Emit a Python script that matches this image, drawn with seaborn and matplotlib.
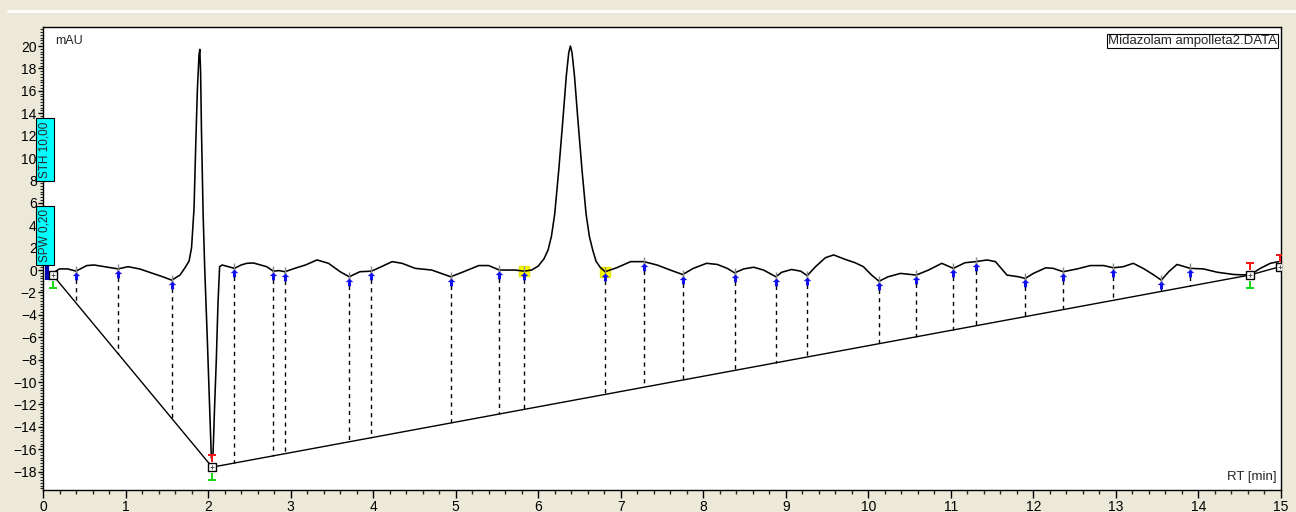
import numpy as np
import pandas as pd
import matplotlib
matplotlib.use("Agg")
import matplotlib.pyplot as plt
import seaborn as sns
from matplotlib.path import Path
from matplotlib.lines import Line2D
from matplotlib.ticker import MultipleLocator
from matplotlib.transforms import ScaledTranslation

# ---- chromatogram signal (RT in min, signal in mAU) ----
rt = [0.10, 0.20, 0.30, 0.40, 0.53, 0.62, 0.77, 0.91, 1.03, 1.17, 1.33, 1.45,
      1.56, 1.66, 1.72, 1.77, 1.80, 1.83, 1.85, 1.87, 1.89, 1.90, 1.91, 1.92,
      1.94, 1.96, 1.99, 2.02, 2.04, 2.06, 2.08, 2.10, 2.12, 2.14, 2.17, 2.32,
      2.40, 2.47, 2.55, 2.71, 2.79, 2.86, 2.93, 3.05, 3.18, 3.32, 3.46, 3.60,
      3.71, 3.84, 3.98, 4.10, 4.23, 4.35, 4.51, 4.71, 4.94, 5.08, 5.28, 5.40,
      5.53, 5.72, 5.83, 5.92, 6.00, 6.07, 6.12, 6.16, 6.20, 6.25, 6.30, 6.34,
      6.37, 6.39, 6.41, 6.44, 6.48, 6.53, 6.58, 6.62, 6.66, 6.70, 6.75, 6.81,
      6.95, 7.12, 7.28, 7.44, 7.60, 7.75, 7.88, 8.04, 8.17, 8.29, 8.38, 8.49,
      8.61, 8.73, 8.88, 8.95, 9.07, 9.18, 9.26, 9.36, 9.48, 9.58, 9.72, 9.84,
      9.94, 10.04, 10.13, 10.24, 10.39, 10.58, 10.73, 10.89, 11.03, 11.17,
      11.30, 11.44, 11.54, 11.68, 11.82, 11.90, 12.00, 12.15, 12.24, 12.36,
      12.53, 12.69, 12.85, 12.97, 13.09, 13.21, 13.33, 13.45, 13.55, 13.64,
      13.74, 13.90, 14.06, 14.23, 14.43, 14.62, 14.75, 14.87, 14.97]
mau = [-0.35, 0.10, 0.10, -0.10, 0.40, 0.45, 0.27, 0.10, 0.30, 0.10, -0.30, -0.60,
       -0.90, -0.45, 0.20, 0.80, 2.00, 5.50, 11.00, 16.00, 19.20, 19.70, 17.50, 12.50,
       5.00, 0.00, -6.00, -12.50, -16.80, -16.50, -12.00, -8.00, -3.00, 0.30, 0.45, 0.15,
       0.45, 0.60, 0.63, 0.30, -0.10, -0.05, -0.15, 0.15, 0.45, 0.90, 0.60, -0.15,
       -0.60, -0.15, -0.10, 0.30, 0.75, 0.60, 0.15, 0.00, -0.60, -0.20, 0.40, 0.40,
       0.00, 0.00, -0.10, 0.00, 0.35, 1.00, 1.80, 3.00, 5.00, 9.00, 13.50, 17.30,
       19.40, 20.00, 19.40, 17.30, 13.50, 9.00, 5.00, 3.00, 1.80, 0.80, 0.25, -0.15,
       0.20, 0.75, 0.75, 0.45, 0.00, -0.40, 0.15, 0.60, 0.50, 0.15, -0.25, 0.10,
       0.25, 0.00, -0.60, -0.20, 0.05, -0.10, -0.50, 0.30, 1.10, 1.35, 0.95, 0.65,
       0.30, -0.45, -1.00, -0.60, -0.30, -0.45, 0.00, 0.60, 0.15, 0.65,
       0.75, 0.90, 0.75, -0.45, -0.60, -0.75, -0.30, 0.20, 0.15, -0.15,
       0.10, 0.40, 0.40, 0.20, 0.30, 0.60, 0.15, -0.40, -0.90, -0.15,
       0.50, 0.15, 0.10, -0.20, -0.40, -0.45, 0.15, 0.60, 0.75]

# ---- integration baseline (peak start / end anchors) ----
base_rt = [0.12, 2.05, 14.62, 14.99]
base_mau = [-0.45, -17.60, -0.45, 0.30]

# ---- detected valley marks ----
valley_rt = [0.40, 0.91, 1.56, 2.32, 2.79, 2.93, 3.71, 3.98, 4.94, 5.53, 5.83,
             6.81, 7.28, 7.75, 8.38, 8.88, 9.26, 10.13, 10.58, 11.03, 11.30,
             11.90, 12.36, 12.97, 13.55, 13.90]
valley_mau = [-0.10, 0.10, -0.90, 0.15, -0.10, -0.15, -0.60, -0.10, -0.60, 0.00,
              -0.10, -0.15, 0.75, -0.40, -0.25, -0.60, -0.50, -1.00, -0.45, 0.15,
              0.75, -0.75, -0.15, 0.20, -0.90, 0.15]

# highlighted peak limits of the main peak
limit_rt = [5.83, 6.81]
limit_mau = [-0.10, -0.15]

# peak start / end boxes and their flags
box_rt = [0.12, 2.05, 14.62, 14.99]
box_mau = [-0.45, -17.60, -0.45, 0.30]
start_flag = [True, True, True, False]   # green flag below
end_flag = [False, True, True, True]     # red flag above

# event bar at the beginning of the run
event_rt = [0.05, 0.05]
event_mau = [0.40, -0.90]

x_ticks = list(range(0, 16))
y_ticks = list(range(-18, 21, 2))

sns.set_style("ticks")
plt.rcParams['font.family'] = ['Liberation Sans', 'DejaVu Sans']

W, H = 1296, 512
fig = plt.figure(figsize=(W / 100, H / 100), dpi=100, facecolor='#ECE9D8')
ax = fig.add_axes([43 / W, 1 - 490 / H, (1281 - 43) / W, (490 - 27) / H])
ax.set_facecolor('white')

fig.add_artist(Line2D([8 / W, 1], [1 - 11 / H, 1 - 11 / H], color='white', lw=2))


def shifted(dy_px):
    return ax.transData + ScaledTranslation(0, dy_px / 100, fig.dpi_scale_trans)


# signal trace
trace = pd.DataFrame({'rt': rt, 'mau': mau})
sns.lineplot(data=trace, x='rt', y='mau', color='black', lw=1.15, sort=False,
             estimator=None, ax=ax, zorder=3)

# integration baseline
base = pd.DataFrame({'rt': base_rt, 'mau': base_mau})
sns.lineplot(data=base, x='rt', y='mau', color='black', lw=1.0, sort=False,
             estimator=None, ax=ax, zorder=3)

# drop lines from each valley to the baseline
for t, v in zip(valley_rt, valley_mau):
    b = np.interp(t, base_rt, base_mau)
    ax.plot([t, t], [v, b], color='black', lw=1.0, ls=(0, (3, 3)), zorder=2)

# yellow peak limit highlights
ax.plot(limit_rt, limit_mau, ls='none', marker='s', ms=7.5, color='#FFFF00',
        mec='#E8E800', zorder=2.5)

# valley tick + blue arrow
arrow_up = Path([(0, 1), (1, 0.1), (0.4, 0.1), (0.4, -1), (-0.4, -1), (-0.4, 0.1),
                 (-1, 0.1), (0, 1)], closed=True)
ax.plot(valley_rt, valley_mau, ls='none', marker='|', ms=9, mew=1.0,
        color='#8a8a8a', transform=shifted(-1), zorder=4)
ax.plot(valley_rt, valley_mau, ls='none', marker=arrow_up, ms=5.5, mew=0,
        color='#1010F0', transform=shifted(-5), zorder=5)

# peak start / end boxes with flags
flag_top = Path([(-1, 1), (1, 1), (1, 0.4), (0.35, 0.4), (0.35, -1), (-0.35, -1),
                 (-0.35, 0.4), (-1, 0.4), (-1, 1)], closed=True)
flag_bottom = Path([(-1, -1), (1, -1), (1, -0.4), (0.35, -0.4), (0.35, 1), (-0.35, 1),
                    (-0.35, -0.4), (-1, -0.4), (-1, -1)], closed=True)
red_t = [t for t, f in zip(box_rt, end_flag) if f]
red_v = [v for v, f in zip(box_mau, end_flag) if f]
green_t = [t for t, f in zip(box_rt, start_flag) if f]
green_v = [v for v, f in zip(box_mau, start_flag) if f]
ax.plot(red_t, red_v, ls='none', marker=flag_top, ms=6, mew=0, color='#F01818',
        transform=shifted(9), zorder=5)
ax.plot(green_t, green_v, ls='none', marker=flag_bottom, ms=6, mew=0, color='#18D818',
        transform=shifted(-10), zorder=5)
ax.plot(box_rt, box_mau, ls='none', marker='s', ms=6, mfc='white', mec='black',
        mew=1.0, zorder=6)
ax.plot(box_rt, box_mau, ls='none', marker='+', ms=3, mew=0.7, color='#555555', zorder=7)

ax.plot(event_rt, event_mau, color='#0000B0', lw=3, solid_capstyle='butt', zorder=6,
        clip_on=False)

# axes
ax.set_xlim(0, 15.0)
ax.set_ylim(-19.64, 21.7)
ax.set_xticks(x_ticks)
ax.set_yticks(y_ticks)
ax.xaxis.set_minor_locator(MultipleLocator(0.2))
ax.yaxis.set_minor_locator(MultipleLocator(0.25))
ax.tick_params(axis='x', which='major', length=5.5, width=1, pad=2, labelsize=10,
               direction='out', colors='black')
ax.tick_params(axis='x', which='minor', length=3, width=1, direction='out')
ax.tick_params(axis='y', which='major', length=3.5, width=1, pad=1, labelsize=10,
               direction='out', colors='black')
ax.tick_params(axis='y', which='minor', length=2, width=0.8, direction='out')
ax.set_xlabel('')
ax.set_ylabel('')
for s in ax.spines.values():
    s.set_visible(True)
    s.set_color('black')
    s.set_linewidth(1.0)

ax.text(0.0097, 0.982, 'mAU', transform=ax.transAxes, ha='left', va='top', fontsize=9)
ax.text(0.9968, 0.016, 'RT [min]', transform=ax.transAxes, ha='right', va='bottom',
        fontsize=9.5)
ax.text(0.9965, 0.983, 'Midazolam ampolleta2.DATA', transform=ax.transAxes,
        ha='right', va='top', fontsize=9.5,
        bbox=dict(boxstyle='square,pad=0.08', fc='white', ec='black', lw=0.8))

# method parameter tags on the signal axis
ax.text(0.024, 10.75, 'STH 10,00', rotation=90, ha='center', va='center', fontsize=8.5,
        bbox=dict(boxstyle='square,pad=0.25', fc='#00FFFF', ec='black', lw=0.8),
        clip_on=False, zorder=10)
ax.text(0.024, 3.05, 'SPW 0,20', rotation=90, ha='center', va='center', fontsize=8.5,
        bbox=dict(boxstyle='square,pad=0.25', fc='#00FFFF', ec='black', lw=0.8),
        clip_on=False, zorder=10)

fig.savefig('out.png', dpi=100, facecolor=fig.get_facecolor())
